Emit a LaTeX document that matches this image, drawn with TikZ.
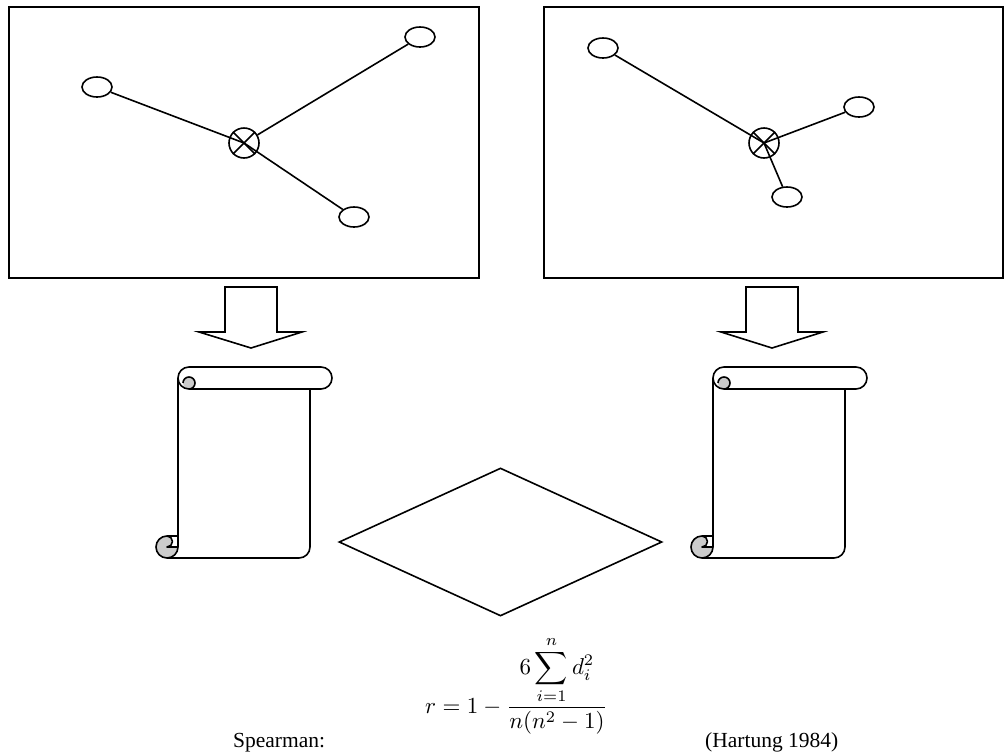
\documentclass[tikz,border=0pt]{standalone}
\usepackage{graphicx}
\usepackage{fontspec}
\setmainfont{Liberation Serif}
\usetikzlibrary{shapes.geometric}
\newcommand\myscroll{%
  \fill[curl] (167,547) circle[radius=11];
  \fill[white] (167,536) rectangle (178,547);
  \fill[curl] (167,536) arc[start angle=-90,end angle=90,radius=5.5] -- cycle;
  \fill[curl] (189,383) circle[radius=6];
  \draw[outl] (178,378) -- (178,547);
  \draw[outl] (310,389) -- (310,547) arc[start angle=0,end angle=90,radius=11] -- (167,558);
  \draw[outl] (189,367) -- (321,367) arc[start angle=-90,end angle=90,radius=11] -- (189,389);
  \draw[outl] (189,367) arc[start angle=-90,end angle=-270,radius=11];
  \draw[outl] (183,383) arc[start angle=-180,end angle=90,radius=6];
  \draw[outl] (167,536) arc[start angle=-90,end angle=-360,radius=11];
  \draw[outl] (167,536) -- (178,536);
  \draw[outl] (167,536) arc[start angle=-90,end angle=90,radius=5.5] -- (178,547);
}
\begin{document}
\begin{tikzpicture}[x=1pt,y=-1pt,
  frame/.style={draw,line width=2pt},
  leaf/.style={ellipse,draw,line width=1.6pt,minimum width=30pt,minimum height=20pt,inner sep=0pt},
  hub/.style={circle,draw,line width=1.6pt,minimum size=30pt,inner sep=0pt},
  link/.style={line width=1.6pt},
  outl/.style={line width=1.6pt,line join=round},
  curl/.style={fill=black!20},
  txt/.style={font=\fontsize{21.5}{25}\selectfont,inner sep=0pt,anchor=base west}]
\useasboundingbox (0,0) rectangle (1005,753);
\fill[white] (0,0) rectangle (1005,753);
% boxes
\draw[frame] (9,7) rectangle (479,278);
\draw[frame] (544,7) rectangle (1003,278);
% left network
\node[leaf] (a1) at (97,87) {};
\node[leaf] (a2) at (420,37) {};
\node[leaf] (a3) at (354,217) {};
\node[hub] (c1) at (244,143) {};
\draw[link] (c1.north west) -- (c1.south east) (c1.north east) -- (c1.south west);
\draw[link] (a1) -- (c1.center);
\draw[link] (a2) -- (c1);
\draw[link] (a3) -- (c1.center);
% right network
\node[leaf] (b1) at (603,48) {};
\node[leaf] (b2) at (859,107) {};
\node[leaf] (b3) at (787,197) {};
\node[hub] (c2) at (764,143) {};
\draw[link] (c2.north west) -- (c2.south east) (c2.north east) -- (c2.south west);
\draw[link] (b1) -- (c2.center);
\draw[link] (b2) -- (c2.center);
\draw[link] (b3) -- (c2.center);
% block arrows
\draw[outl,line join=miter] (225,287) -- (277,287) -- (277,332) -- (302,332) -- (251,348) -- (199,332) -- (225,332) -- cycle;
\draw[outl,line join=miter] (746,287) -- (798,287) -- (798,332) -- (823,332) -- (772,348) -- (721,332) -- (746,332) -- cycle;
% scrolls
\myscroll
\begin{scope}[shift={(535,0)}]
\myscroll
\end{scope}
% diamond
\node[diamond,draw,line width=1.6pt,minimum width=323pt,minimum height=148pt,inner sep=0pt] (dm) at (500.5,542) {};
% texts
\node[txt] (sp) at (233,747) {Spearman:};
\node[txt] (ha) at (705,747) {(Hartung 1984)};
\node[inner sep=0pt,anchor=base west] (fm) at (425,713)
  {\scalebox{2.3}{$\displaystyle r = 1 - \frac{\displaystyle 6\sum_{i=1}^{n} d_i^{2}}{n(n^{2}-1)}$}};
\end{tikzpicture}
\end{document}
